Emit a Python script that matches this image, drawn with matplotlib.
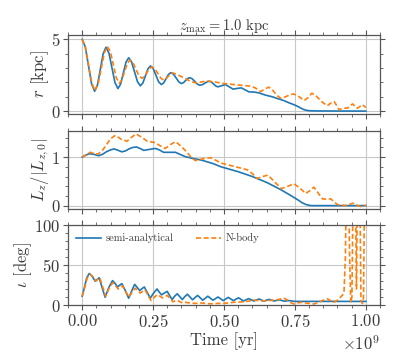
import matplotlib
matplotlib.use("Agg")
import matplotlib.pyplot as plt
from matplotlib.ticker import MultipleLocator, ScalarFormatter
import numpy as np

# ---------------- data (time in units of 1e9 yr) ----------------
t_r_sa = [0.000, 0.011, 0.022, 0.033, 0.044, 0.054, 0.064, 0.074, 0.084, 0.0945,
          0.105, 0.1155, 0.126, 0.1355, 0.145, 0.1545, 0.164, 0.174, 0.1845, 0.195,
          0.205, 0.214, 0.223, 0.232, 0.241, 0.2505, 0.260, 0.2695, 0.279, 0.2875,
          0.296, 0.3045, 0.313, 0.322, 0.3315, 0.341, 0.350, 0.357, 0.3645, 0.372,
          0.379, 0.388, 0.397, 0.406, 0.415, 0.4235, 0.432, 0.4405, 0.449, 0.456,
          0.4635, 0.471, 0.478, 0.4915, 0.505, 0.5185, 0.532, 0.5465, 0.561, 0.5745,
          0.588, 0.605, 0.623, 0.647, 0.670, 0.688, 0.710, 0.729, 0.745, 0.760,
          0.770, 0.780, 0.790, 0.800, 0.820, 0.850, 1.000]
r_sa = [5.00, 4.47, 3.19, 1.91, 1.38, 1.83, 2.92, 4.00, 4.45, 4.03,
        3.01, 1.99, 1.57, 1.88, 2.65, 3.41, 3.72, 3.43, 2.74, 2.05,
        1.76, 1.96, 2.46, 2.95, 3.15, 2.96, 2.50, 2.04, 1.85, 1.97,
        2.27, 2.56, 2.68, 2.57, 2.30, 2.03, 1.92, 1.98, 2.13, 2.27,
        2.33, 2.25, 2.07, 1.88, 1.80, 1.84, 1.94, 2.04, 2.08, 2.02,
        1.89, 1.75, 1.69, 1.77, 1.85, 1.69, 1.53, 1.58, 1.62, 1.48,
        1.34, 1.33, 1.27, 1.11, 1.00, 0.88, 0.74, 0.58, 0.46, 0.33,
        0.22, 0.12, 0.06, 0.03, 0.015, 0.01, 0.00]

t_r_nb = [0.000, 0.011, 0.0225, 0.034, 0.045, 0.056, 0.067, 0.078, 0.089, 0.0995,
          0.110, 0.1205, 0.131, 0.140, 0.1495, 0.159, 0.168, 0.179, 0.1895, 0.200,
          0.211, 0.220, 0.2285, 0.237, 0.246, 0.256, 0.2665, 0.277, 0.287, 0.295,
          0.3035, 0.312, 0.320, 0.335, 0.350, 0.370, 0.385, 0.400, 0.420, 0.440,
          0.470, 0.500, 0.550, 0.594, 0.610, 0.629, 0.645, 0.658, 0.672, 0.686,
          0.700, 0.715, 0.730, 0.745, 0.765, 0.783, 0.797, 0.810, 0.825, 0.845,
          0.864, 0.876, 0.888, 0.897, 0.906, 0.915, 0.923, 0.936, 0.953, 0.962,
          0.970, 0.979, 0.988, 1.000]
r_nb = [5.00, 4.48, 3.21, 1.94, 1.42, 1.87, 2.96, 4.05, 4.50, 4.13,
        3.22, 2.31, 1.94, 2.18, 2.75, 3.31, 3.55, 3.37, 2.92, 2.47,
        2.29, 2.41, 2.69, 2.96, 3.08, 2.95, 2.63, 2.30, 2.17, 2.24,
        2.42, 2.59, 2.66, 2.55, 2.40, 2.20, 2.05, 1.97, 2.03, 2.10,
        2.02, 1.92, 1.82, 1.74, 1.62, 1.36, 1.55, 1.67, 1.45, 1.10,
        0.90, 0.98, 1.12, 1.20, 1.00, 0.74, 0.95, 1.25, 1.05, 0.65,
        0.37, 0.55, 0.67, 0.40, 0.09, 0.18, 0.20, 0.22, 0.50, 0.35,
        0.20, 0.32, 0.45, 0.25]

t_lz_sa = [0.000, 0.012, 0.025, 0.040, 0.058, 0.072, 0.085, 0.100, 0.113, 0.127,
           0.140, 0.153, 0.165, 0.178, 0.191, 0.204, 0.217, 0.237, 0.258, 0.272,
           0.287, 0.308, 0.329, 0.346, 0.364, 0.385, 0.420, 0.460, 0.490, 0.550,
           0.600, 0.650, 0.700, 0.735, 0.760, 0.775, 0.790, 0.806, 1.000]
lz_sa = [1.00, 1.04, 1.07, 1.06, 1.03, 1.06, 1.11, 1.15, 1.17, 1.14,
         1.11, 1.13, 1.17, 1.20, 1.21, 1.18, 1.14, 1.16, 1.18, 1.15,
         1.10, 1.10, 1.10, 1.055, 1.01, 0.98, 0.94, 0.87, 0.80, 0.70,
         0.60, 0.48, 0.33, 0.21, 0.12, 0.06, 0.02, 0.00, 0.00]

t_lz_nb = [0.000, 0.014, 0.028, 0.042, 0.055, 0.070, 0.085, 0.100, 0.117, 0.130,
           0.140, 0.158, 0.174, 0.190, 0.210, 0.229, 0.258, 0.276, 0.293, 0.311,
           0.329, 0.350, 0.371, 0.385, 0.399, 0.420, 0.452, 0.470, 0.488, 0.535,
           0.582, 0.600, 0.617, 0.636, 0.655, 0.680, 0.702, 0.725, 0.747, 0.768,
           0.788, 0.803, 0.817, 0.832, 0.847, 0.862, 0.876, 0.890, 0.900, 0.930,
           0.954, 0.972, 0.982, 1.000]
lz_nb = [1.00, 1.05, 1.10, 1.08, 1.06, 1.13, 1.25, 1.38, 1.45, 1.40,
         1.36, 1.33, 1.41, 1.48, 1.41, 1.33, 1.30, 1.23, 1.18, 1.26,
         1.32, 1.22, 1.09, 0.99, 0.93, 0.96, 0.99, 0.94, 0.88, 0.81,
         0.74, 0.66, 0.56, 0.60, 0.63, 0.48, 0.35, 0.40, 0.45, 0.36,
         0.25, 0.31, 0.38, 0.26, 0.14, 0.13, 0.14, 0.07, 0.02, 0.00,
         0.05, 0.00, -0.02, 0.01]

t_i_sa = [0.000, 0.008, 0.016, 0.025, 0.035, 0.046, 0.053, 0.060, 0.070, 0.081,
          0.094, 0.107, 0.116, 0.125, 0.133, 0.140, 0.152, 0.164, 0.175, 0.185,
          0.194, 0.203, 0.211, 0.219, 0.229, 0.240, 0.252, 0.264, 0.272, 0.280,
          0.290, 0.300, 0.308, 0.317, 0.326, 0.335, 0.344, 0.353, 0.362, 0.371,
          0.380, 0.389, 0.398, 0.407, 0.416, 0.425, 0.434, 0.443, 0.452, 0.461,
          0.470, 0.479, 0.488, 0.497, 0.506, 0.515, 0.524, 0.533, 0.542, 0.551,
          0.560, 0.569, 0.578, 0.587, 0.596, 0.605, 0.614, 0.623, 0.632, 0.641,
          0.650, 0.659, 0.668, 0.677, 0.686, 0.695, 0.704, 0.713, 0.722, 0.730,
          0.740, 0.750, 1.000]
i_sa = [11.0, 22.0, 34.0, 39.4, 36.0, 29.7, 32.0, 34.0, 22.0, 9.7,
        22.0, 30.5, 27.0, 22.5, 25.0, 26.7, 18.0, 8.5, 18.0, 25.8,
        22.0, 18.0, 20.5, 22.5, 16.0, 8.5, 15.0, 20.0, 16.0, 12.7,
        15.0, 17.0, 12.0, 6.8, 11.0, 14.0, 10.5, 6.8, 10.5, 13.5,
        10.0, 6.5, 9.3, 12.0, 9.0, 6.0, 8.5, 11.0, 8.5, 6.0,
        8.0, 10.0, 7.8, 5.5, 7.5, 9.5, 7.5, 5.5, 7.2, 9.0,
        7.0, 5.0, 6.5, 8.0, 6.5, 5.0, 6.2, 7.5, 6.2, 5.0,
        6.0, 7.0, 6.0, 5.0, 5.8, 6.5, 5.6, 4.8, 5.2, 5.5,
        5.0, 4.5, 4.5]

t_i_nb = [0.000, 0.009, 0.018, 0.028, 0.038, 0.048, 0.055, 0.062, 0.072, 0.083,
          0.095, 0.108, 0.118, 0.127, 0.135, 0.142, 0.153, 0.165, 0.176, 0.187,
          0.196, 0.205, 0.213, 0.222, 0.232, 0.243, 0.254, 0.265, 0.274, 0.283,
          0.291, 0.300, 0.310, 0.320, 0.330, 0.340, 0.350, 0.360, 0.380, 0.400,
          0.420, 0.450, 0.480, 0.500, 0.535, 0.570, 0.590, 0.605, 0.630, 0.653,
          0.680, 0.700, 0.710, 0.723, 0.735, 0.747, 0.770, 0.800, 0.817, 0.834,
          0.850, 0.865, 0.878, 0.888, 0.900, 0.917, 0.923, 0.928, 0.932, 0.938,
          0.943, 0.947, 0.951, 0.956, 0.963, 0.967, 0.971, 0.978, 0.983, 0.988,
          0.992, 0.996, 1.000]
i_nb = [11.0, 22.0, 34.0, 38.5, 35.0, 30.0, 32.0, 34.0, 23.0, 11.0,
        21.0, 28.0, 24.0, 20.0, 22.0, 24.0, 17.0, 10.0, 16.0, 21.0,
        18.0, 15.0, 17.0, 19.0, 12.0, 5.5, 9.5, 13.0, 11.0, 9.0,
        10.5, 12.0, 8.0, 4.0, 5.5, 5.0, 3.0, 3.5, 2.5, 2.0,
        2.5, 1.5, 2.0, 2.0, 3.4, 4.0, 5.0, 6.3, 5.0, 5.5,
        6.0, 7.5, 8.8, 6.3, 3.0, 1.3, 3.4, 2.0, 1.3, 3.4,
        6.0, 7.6, 5.0, 3.4, 6.0, 12.0, 15.0, 60.0, 170.0, 170.0,
        60.0, 3.0, 10.0, 170.0, 170.0, 20.0, 170.0, 170.0, 5.0, 2.0,
        10.0, 170.0, 170.0]

title = r"$z_{\rm max} = 1.0$ kpc"
ylabels = [r"$r$ [kpc]", r"$L_z/|L_{z,0}|$", r"$\iota$ [deg]"]
xlabel = "Time [yr]"
legend_labels = ["semi-analytical", "N-body"]

# ---------------- style ----------------
plt.rcParams['font.family'] = ['cmr10', 'DejaVu Serif']
plt.rcParams['mathtext.fontset'] = 'cm'
plt.rcParams['axes.formatter.use_mathtext'] = True
plt.rcParams['axes.unicode_minus'] = False
txt = '#3a3a3a'
plt.rcParams['text.color'] = txt
plt.rcParams['axes.labelcolor'] = txt
plt.rcParams['xtick.color'] = '#555555'
plt.rcParams['ytick.color'] = '#555555'
plt.rcParams['xtick.labelcolor'] = txt
plt.rcParams['ytick.labelcolor'] = txt

blue = '#1f77b4'
orange = '#ff7f0e'

fig = plt.figure(figsize=(3.99, 3.59), dpi=100)
W, H = 399.0, 359.0
left = 68 / W
width = (380 - 68) / W
rows = [(35, 114), (131, 209), (225, 305)]
axes = []
for top, bot in rows:
    ax = fig.add_axes([left, 1 - bot / H, width, (bot - top) / H])
    axes.append(ax)

def sc(t):
    return np.array(t) * 1e9

series = [
    (t_r_sa, r_sa, t_r_nb, r_nb),
    (t_lz_sa, lz_sa, t_lz_nb, lz_nb),
    (t_i_sa, i_sa, t_i_nb, i_nb),
]
ylims = [(-0.2, 5.3), (-0.07, 1.54), (0, 100)]
ymaj = [5, 1, 50]
ymin = [1, 0.2, 10]

for k, ax in enumerate(axes):
    tsa, vsa, tnb, vnb = series[k]
    ax.plot(sc(tsa), vsa, color=blue, lw=1.2, label=legend_labels[0])
    ax.plot(sc(tnb), vnb, color=orange, lw=1.2, ls='--', dashes=(3.0, 1.6),
            label=legend_labels[1])
    ax.set_xlim(-0.05e9, 1.05e9)
    ax.set_ylim(*ylims[k])
    ax.xaxis.set_major_locator(MultipleLocator(0.25e9))
    ax.xaxis.set_minor_locator(MultipleLocator(0.05e9))
    ax.yaxis.set_major_locator(MultipleLocator(ymaj[k]))
    ax.yaxis.set_minor_locator(MultipleLocator(ymin[k]))
    ax.grid(True, which='major', color='#c8c8c8', lw=0.8)
    ax.set_axisbelow(True)
    ax.tick_params(which='both', direction='out', top=True, right=True,
                   labelsize=12, pad=2)
    ax.tick_params(which='major', length=3.5, width=0.8)
    ax.tick_params(which='minor', length=2, width=0.6)
    for s in ax.spines.values():
        s.set_color('#555555')
        s.set_linewidth(0.9)
    ax.set_ylabel(ylabels[k], fontsize=12, labelpad=0)
    if k < 2:
        ax.tick_params(labelbottom=False)

axes[0].set_title(title, fontsize=10.5, pad=3)

fmt = ScalarFormatter(useMathText=True)
fmt.set_scientific(True)
fmt.set_powerlimits((0, 0))
axes[2].xaxis.set_major_formatter(fmt)
axes[2].xaxis.get_offset_text().set_fontsize(12)
axes[2].set_xlabel(xlabel, fontsize=12, labelpad=2)

axes[2].legend(loc='upper left', ncol=2, frameon=False, fontsize=7.5,
               handlelength=2.4, columnspacing=2.2, borderaxespad=0.4,
               handletextpad=0.4)

fig.savefig("out.png", dpi=100)
